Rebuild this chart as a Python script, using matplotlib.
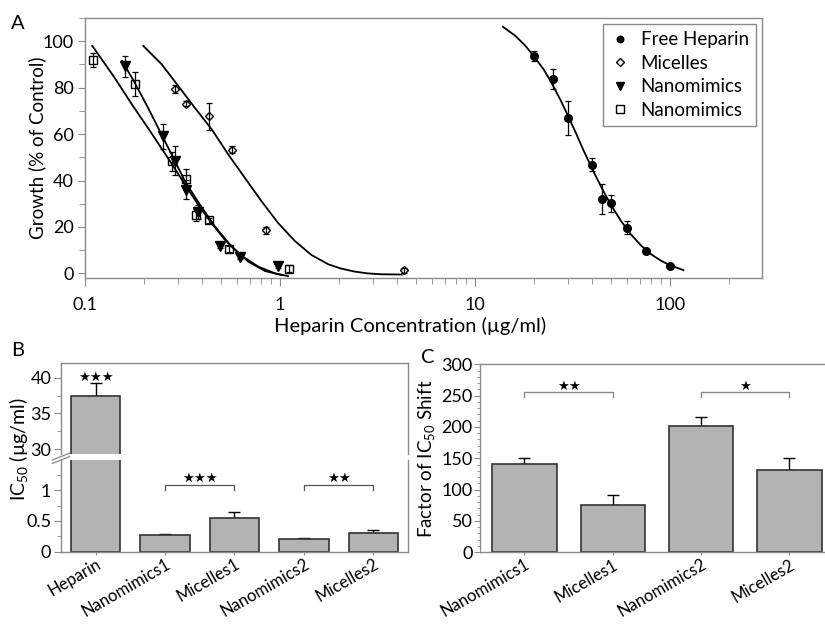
import numpy as np
import matplotlib.pyplot as plt
from matplotlib.lines import Line2D
from matplotlib.ticker import LogLocator, MultipleLocator, NullFormatter

plt.rcParams.update({
    'font.family': ['Lato', 'DejaVu Sans'],
    'font.size': 13,
    'mathtext.fontset': 'custom',
    'mathtext.rm': 'Lato',
    'mathtext.it': 'Lato:italic',
    'axes.edgecolor': '#8a8a8a',
    'axes.linewidth': 1.0,
    'axes.labelsize': 14.5,
    'xtick.labelsize': 13,
    'ytick.labelsize': 13,
    'xtick.color': '#8a8a8a',
    'ytick.color': '#8a8a8a',
    'xtick.labelcolor': 'black',
    'ytick.labelcolor': 'black',
    'lines.linewidth': 1.3,
})

# ---- panel A: growth vs heparin concentration ----
hep_x = [20, 25, 30, 40, 45, 50, 60, 75, 100]
hep_y = [93.5, 83.7, 66.9, 46.8, 31.9, 30.1, 19.7, 9.6, 3.2]
hep_err = [2.2, 4.3, 7.5, 2.8, 6.5, 3.5, 2.7, 0.8, 0.6]

mic_x = [0.29, 0.33, 0.43, 0.57, 0.85, 4.3]
mic_y = [79.3, 73.1, 67.6, 53.2, 18.5, 1.3]
mic_err = [1.8, 1.0, 5.9, 1.5, 1.5, 1.0]

tri_x = [0.16, 0.25, 0.29, 0.33, 0.38, 0.49, 0.62, 0.98]
tri_y = [89.3, 59.0, 48.6, 36.1, 26.3, 11.9, 6.9, 3.0]
tri_err = [4.5, 5.4, 6.4, 4.2, 3.0, 0.8, 0.8, 0.8]

sq_x = [0.11, 0.18, 0.28, 0.33, 0.37, 0.43, 0.55, 1.11]
sq_y = [92.0, 81.7, 48.3, 40.6, 25.2, 22.8, 10.5, 1.9]
sq_err = [2.9, 5.2, 4.0, 4.5, 2.5, 1.0, 1.2, 1.5]

# fitted curves
hep_fit_x = [13.9, 16, 18, 20, 22.5, 25, 27.5, 30, 33, 36, 40, 45, 50, 56, 63, 71, 80, 90, 100, 117]
hep_fit_y = [106.2, 102.5, 98.3, 93.6, 87.8, 81.2, 74.5, 67.8, 60.2, 53.0, 44.8, 36.2, 29.2,
             22.6, 16.8, 12.0, 8.2, 5.4, 3.5, 1.4]

mic_fit_x = [0.199, 0.247, 0.301, 0.366, 0.447, 0.543, 0.661, 0.805, 0.98, 1.19, 1.45, 1.77,
             2.05, 2.4, 2.8, 3.3, 4.21]
mic_fit_y = [98.0, 90.1, 80.7, 71.3, 62.0, 51.2, 41.1, 31.0, 21.6, 14.0, 7.9, 3.9,
             2.1, 0.8, 0.0, -0.4, -0.5]

tri_fit_x = [0.155, 0.18, 0.21, 0.247, 0.284, 0.326, 0.389, 0.464, 0.565, 0.689, 0.838, 1.02]
tri_fit_y = [91.5, 82.1, 71.5, 59.8, 49.7, 39.6, 29.5, 20.2, 11.5, 5.0, 1.0, -0.7]

sq_fit_x = [0.109, 0.14, 0.174, 0.22, 0.273, 0.326, 0.381, 0.446, 0.522, 0.635, 0.774, 0.942, 1.10]
sq_fit_y = [98.0, 85.0, 72.8, 60.2, 48.3, 38.2, 29.5, 21.6, 14.4, 7.6, 2.9, 0.0, -1.2]

legend_labels = ['Free Heparin', 'Micelles', 'Nanomimics', 'Nanomimics']
a_xticks = [0.1, 1, 10, 100]
a_xticklabels = ['0.1', '1', '10', '100']

# ---- panel B: IC50 ----
b_names = ['Heparin', 'Nanomimics1', 'Micelles1', 'Nanomimics2', 'Micelles2']
b_vals = [37.4, 0.27, 0.55, 0.20, 0.30]
b_err = [1.8, 0.01, 0.10, 0.015, 0.045]

# ---- panel C: IC50 shift ----
c_names = ['Nanomimics1', 'Micelles1', 'Nanomimics2', 'Micelles2']
c_vals = [141, 75, 202, 131]
c_err = [10, 16, 14, 20]

bar_color = '#b3b3b3'
bar_edge = '#333333'
star_font = ['DejaVu Sans']

fig = plt.figure(figsize=(8.25, 6.25), dpi=100)

# ================= A =================
axA = fig.add_axes([0.103, 0.5552, 0.8206, 0.416])
axA.set_xscale('log')
for fx, fy in [(hep_fit_x, hep_fit_y), (mic_fit_x, mic_fit_y),
               (tri_fit_x, tri_fit_y), (sq_fit_x, sq_fit_y)]:
    axA.plot(fx, fy, color='black', lw=1.3, solid_joinstyle='round')

series = [
    (hep_x, hep_y, hep_err, 'o', 'black', 5.5),
    (mic_x, mic_y, mic_err, 'D', 'none', 4.3),
    (tri_x, tri_y, tri_err, 'v', 'black', 6.5),
    (sq_x, sq_y, sq_err, 's', 'none', 6.0),
]
handles = []
for (x, y, e, m, fc, ms), lab in zip(series, legend_labels):
    axA.errorbar(x, y, yerr=e, fmt='none', ecolor='black', elinewidth=0.9,
                 capsize=2.2, capthick=0.9, zorder=3)
    axA.plot(x, y, m, ms=ms, mfc=fc, mec='black', mew=1.0, ls='none', zorder=4)
    handles.append(Line2D([], [], marker=m, ms=ms * 0.85, mfc=fc, mec='black',
                          mew=1.0, ls='none'))

axA.set_xlim(0.1, 296)
axA.set_ylim(-2, 110)
axA.set_xticks(a_xticks, labels=a_xticklabels)
axA.xaxis.set_minor_locator(LogLocator(base=10, subs=np.arange(2, 10), numticks=20))
axA.xaxis.set_minor_formatter(NullFormatter())
axA.set_yticks([0, 20, 40, 60, 80, 100])
axA.yaxis.set_minor_locator(MultipleLocator(10))
axA.tick_params(axis='x', which='major', length=6, pad=8)
axA.tick_params(axis='x', which='minor', length=4)
axA.tick_params(axis='y', which='major', length=5, pad=3)
axA.tick_params(axis='y', which='minor', length=4)
axA.set_xlabel('Heparin Concentration (µg/ml)')
axA.set_ylabel('Growth (% of Control)', fontsize=13.5)
axA.xaxis.set_label_coords(0.48, -0.148)
axA.yaxis.set_label_coords(-0.058, 0.5)
leg = axA.legend(handles, legend_labels, loc='upper right', fontsize=13.5,
                 frameon=True, fancybox=False, edgecolor='#8a8a8a', framealpha=1,
                 borderaxespad=0.3, borderpad=0.4, labelspacing=0.35,
                 handlelength=1.0, handletextpad=0.6)
leg.get_frame().set_linewidth(1.0)

# ================= B =================
bx = np.arange(len(b_names))
axBt = fig.add_axes([0.0739, 0.2736, 0.4206, 0.1461])
axBb = fig.add_axes([0.0739, 0.1173, 0.4206, 0.1467])
for ax in (axBt, axBb):
    ax.bar(bx, b_vals, width=0.71, color=bar_color, edgecolor=bar_edge, lw=1.2, zorder=2)
    ax.errorbar(bx, b_vals, yerr=[np.zeros(len(b_vals)), b_err], fmt='none',
                ecolor='black', elinewidth=1.0, capsize=4, capthick=1.0, zorder=1)
    ax.set_xlim(-0.5, 4.5)
axBt.set_ylim(29.3, 42.1)
axBb.set_ylim(0, 1.49)
axBt.spines['bottom'].set_visible(False)
axBb.spines['top'].set_visible(False)
axBt.tick_params(axis='x', which='both', bottom=False, labelbottom=False)
axBt.set_yticks([30, 35, 40])
axBt.yaxis.set_minor_locator(MultipleLocator(2.5))
axBb.set_yticks([0, 0.5, 1], labels=['0', '0.5', '1'])
axBb.yaxis.set_minor_locator(MultipleLocator(0.25))
for ax in (axBt, axBb):
    ax.tick_params(axis='y', which='major', length=5, pad=2)
    ax.tick_params(axis='y', which='minor', length=3)
axBb.set_xticks(bx)
axBb.set_xticklabels(b_names, rotation=30, ha='right', va='top',
                     rotation_mode='anchor', fontsize=12)
axBb.tick_params(axis='x', length=2, pad=1)

# break marks on the left spine
d = 0.025
axBb.plot([-d, d], [1.0, 1.0 + 3 * d], transform=axBb.transAxes, color='#8a8a8a',
          lw=0.9, clip_on=False)
axBb.plot([-d, d], [1.0 - 1.5 * d, 1.0 + 1.5 * d], transform=axBb.transAxes,
          color='#8a8a8a', lw=0.9, clip_on=False)

fig.text(0.022, 0.281, r'IC$_{\mathrm{50}}$ (µg/ml)', rotation=90, ha='center',
         va='center', fontsize=14)

# significance
axBt.text(0, 40.1, '★★★', ha='center', va='center', fontsize=9.5, family=star_font)
for (i, j), stars in zip([(1, 2), (3, 4)], ['★★★', '★★']):
    axBb.plot([i, i, j, j], [1.01, 1.09, 1.09, 1.01], color='#555555', lw=0.9)
    axBb.text((i + j) / 2, 1.19, stars, ha='center', va='center', fontsize=9.5,
              family=star_font)

# ================= C =================
cx = np.arange(len(c_names))
axC = fig.add_axes([0.5822, 0.1165, 0.4281, 0.3006])
axC.bar(cx, c_vals, width=0.73, color=bar_color, edgecolor=bar_edge, lw=1.2, zorder=2)
axC.errorbar(cx, c_vals, yerr=[np.zeros(len(c_vals)), c_err], fmt='none',
             ecolor='black', elinewidth=1.0, capsize=4, capthick=1.0, zorder=1)
axC.set_xlim(-0.5, 3.5)
axC.set_ylim(0, 300)
axC.yaxis.set_major_locator(MultipleLocator(50))
axC.yaxis.set_minor_locator(MultipleLocator(10))
axC.tick_params(axis='y', which='major', length=4, pad=1.5)
axC.tick_params(axis='y', which='minor', length=2.5)
axC.set_xticks(cx)
axC.set_xticklabels(c_names, rotation=30, ha='right', va='top',
                    rotation_mode='anchor', fontsize=12)
axC.tick_params(axis='x', length=2, pad=1)
axC.set_ylabel(r'Factor of IC$_{\mathrm{50}}$ Shift', fontsize=13.5, labelpad=3)
for (i, j), stars in zip([(0, 1), (2, 3)], ['★★', '★']):
    axC.plot([i, i, j, j], [248, 256, 256, 248], color='#8a8a8a', lw=1.0)
    axC.text((i + j) / 2, 265, stars, ha='center', va='center', fontsize=9.5,
             family=star_font)

# panel letters
fig.text(0.022, 0.963, 'A', fontsize=14.5, ha='center', va='center')
fig.text(0.021, 0.44, 'B', fontsize=14.5, ha='center', va='center')
fig.text(0.518, 0.428, 'C', fontsize=14.5, ha='center', va='center')

fig.savefig('out.png', dpi=100)
